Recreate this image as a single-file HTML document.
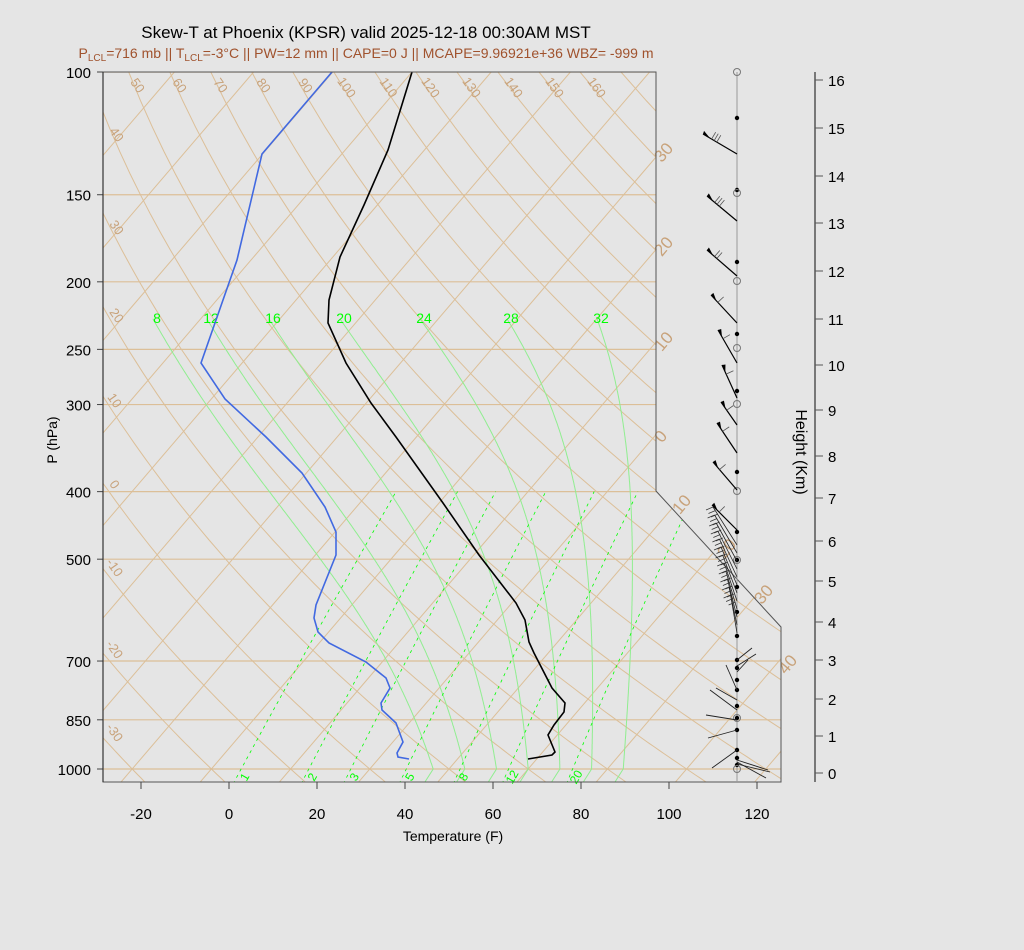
<!DOCTYPE html>
<html><head><meta charset="utf-8"><style>
html,body{margin:0;padding:0;background:#e5e5e5;}
svg{display:block;font-family:"Liberation Sans",sans-serif;}
</style></head><body>
<svg id="s" width="1024" height="950" viewBox="0 0 1024 950" xmlns="http://www.w3.org/2000/svg">
<rect width="1024" height="950" fill="#e5e5e5"/>
<defs><clipPath id="cp"><polygon points="103,72 656,72 656,491 781,627 781,782 103,782"/></clipPath></defs>
<g id="grid" clip-path="url(#cp)"></g>
<g id="over"></g>
<text x="366" y="38" font-size="17" text-anchor="middle" fill="#000">Skew-T at Phoenix (KPSR) valid 2025-12-18 00:30AM MST</text>
<text x="366" y="58" font-size="14" text-anchor="middle" fill="#a0522d">P<tspan font-size="10" dy="3">LCL</tspan><tspan dy="-3">=716 mb || T</tspan><tspan font-size="10" dy="3">LCL</tspan><tspan dy="-3">=-3°C || PW=12 mm || CAPE=0 J || MCAPE=9.96921e+36 WBZ= -999 m</tspan></text>
<text x="453" y="841" font-size="14" text-anchor="middle">Temperature (F)</text>
<text transform="translate(57,440) rotate(-90)" font-size="14" text-anchor="middle">P (hPa)</text>
<text transform="translate(796,452) rotate(90)" font-size="16" text-anchor="middle">Height (Km)</text>
</svg>
<script>
(function(){
var NS="http://www.w3.org/2000/svg";
var g=document.getElementById('grid'),o=document.getElementById('over');
function el(par,tag,a,txt){var e=document.createElementNS(NS,tag);for(var k in a)e.setAttribute(k,a[k]);if(txt!==undefined)e.textContent=txt;par.appendChild(e);return e;}
function Y(p){return 72+697*Math.log10(p/100);}
function X(tc,p){return 229+4.4*(tc*1.8+32)+0.856*(769-Y(p));}
function pl(par,pts,a){a.points=pts.map(function(q){return q[0].toFixed(1)+','+q[1].toFixed(1)}).join(' ');a.fill='none';return el(par,'polyline',a);}
var tan='#dcbf98',tanT='#c8a27a';
[100,150,200,250,300,400,500,700,850,1000].forEach(function(p){var y=Y(p);el(g,'line',{x1:103,y1:y,x2:781,y2:y,stroke:tan,'stroke-width':1.2});
 el(o,'text',{x:91,y:y+6,'font-size':15,'text-anchor':'end'},String(p));el(o,'line',{x1:97,y1:y,x2:103,y2:y,stroke:'#444'});});
for(var t=-120;t<=60;t+=10){pl(g,[[X(t,1060),Y(1060)],[X(t,100),72]],{stroke:tan,'stroke-width':1});}
for(var th=-30;th<=200;th+=10){var pts=[];for(var p=1060;p>=100;p-=10){var T=(th+273.15)*Math.pow(p/1000,0.2857)-273.15;pts.push([X(T,p),Y(p)]);}pl(g,pts,{stroke:tan,'stroke-width':1});}
var lt=[[40,113,137],[30,113,230],[20,113,318],[10,111,403],[0,111,487],[-10,111,570],[-20,111,652],[-30,111,735]];
lt.forEach(function(a){el(o,'text',{transform:'translate('+a[1]+','+a[2]+') rotate(55)','font-size':13,fill:tanT,'text-anchor':'middle'},String(a[0]));});
var tt=[[50,134,88],[60,176,88],[70,217,88],[80,260,88],[90,302,88],[100,343,90],[110,385,90],[120,427,90],[130,468,90],[140,510,90],[150,551,90],[160,593,90]];
tt.forEach(function(a){el(o,'text',{transform:'translate('+a[1]+','+a[2]+') rotate(55)','font-size':13,fill:tanT,'text-anchor':'middle'},String(a[0]));});
var it=[[30,668,156],[20,668,250],[10,668,345],[0,665,440],[10,686,508],[20,731,552],[30,768,598],[40,792,668]];
it.forEach(function(a){el(o,'text',{transform:'translate('+a[1]+','+a[2]+') rotate(-50)','font-size':17,fill:tanT,'text-anchor':'middle'},String(a[0]));});
function es(tc){return 6.112*Math.exp(17.67*tc/(tc+243.5));}
var refL={8:157,12:211,16:273,20:344,24:424,28:511,32:601};
[8,12,16,20,24,28,32].forEach(function(tw){var T=tw+273.15,pts=[],ps=[];
 for(var p=1000;p<=1060;p+=2){}
 var arr=[];for(var p=1000;p>=225;p-=2){var tc=T-273.15,e=es(tc),rs=0.622*e/(p-e);arr.push([X(tc,p),p]);var d=(287*T+2.5e6*rs)/(p*(1005+2.5e6*2.5e6*rs*0.622/(287*T*T)));T-=d*2;}
 var top=arr[arr.length-1][0],corr=refL[tw]-4-top,L1=Math.log(1000/225);
 arr.forEach(function(a){var f=Math.log(1000/a[1])/L1;pts.push([a[0]+corr*f*f,Y(a[1])]);});
 pts.unshift([X(tw+0.5,1060),Y(1060)]);
 pl(g,pts,{stroke:'#90ee90','stroke-width':1});el(o,'text',{x:refL[tw],y:323,'font-size':14,fill:'#00ff00','text-anchor':'middle'},String(tw));});
[1,2,3,5,8,12,20].forEach(function(w){var pts=[];for(var p=1050;p>=400;p-=10){var e=w/1000*p/(0.622+w/1000),L=Math.log(e/6.112),td=243.5*L/(17.67-L);pts.push([X(td,p)+7,Y(p)]);}
 pl(g,pts,{stroke:'#00ff00','stroke-width':0.8,'stroke-dasharray':'3,4'});
 var e=w/1000*1000/(0.622+w/1000),L=Math.log(e/6.112),td=243.5*L/(17.67-L);el(o,'text',{transform:'translate('+(X(td,1000)+14)+',779) rotate(-60)','font-size':12,fill:'#00ff00','text-anchor':'middle'},String(w));});
pl(o,[[412,72],[388,150],[364,205],[340,257],[329,300],[328,323],[346,363],[371,403],[396,437],[443,503],[479,555],[516,603],[525,620],[529,642],[534,653],[552,688],[565,703],[564,712],[554,725],[548,735],[555,752],[552,755],[528,759]],{stroke:'#000','stroke-width':1.6});
pl(o,[[332,72],[262,154],[237,260],[223,300],[201,363],[225,399],[266,437],[302,473],[325,507],[336,532],[336,555],[316,605],[314,618],[318,632],[329,643],[366,662],[386,678],[390,688],[381,703],[382,710],[396,723],[403,742],[397,753],[398,757],[409,759]],{stroke:'#4169e1','stroke-width':1.6});
el(o,'polyline',{points:'103,72 656,72 656,491 781,627 781,782 103,782 103,72',fill:'none',stroke:'#555','stroke-width':1});
el(o,'line',{x1:103,y1:72,x2:103,y2:782,stroke:'#333','stroke-width':1.2});
for(var v=-20;v<=120;v+=20){var x=229+4.4*v;el(o,'line',{x1:x,y1:782,x2:x,y2:789,stroke:'#444'});el(o,'text',{x:x,y:819,'font-size':15,'text-anchor':'middle'},String(v));}
el(o,'line',{x1:815,y1:72,x2:815,y2:782,stroke:'#555','stroke-width':1.5});
var hy=[773,736,699,660,622,581,541,498,456,410,365,319,271,223,176,128,80];
hy.forEach(function(y,k){el(o,'line',{x1:815,y1:y,x2:823,y2:y,stroke:'#555'});el(o,'text',{x:828,y:y+6,'font-size':15},String(k));});
el(o,'line',{x1:737,y1:72,x2:737,y2:782,stroke:'#999','stroke-width':1});
[118,190,262,334,391,472,532,560,587,612,636,660,668,680,690,706,718,730,750,758,765].forEach(function(y){el(o,'circle',{cx:737,cy:y,r:2.2,fill:'#000'});});
[72,193,281,348,404,491,560,718,769].forEach(function(y){el(o,'circle',{cx:737,cy:y,r:3.5,fill:'none',stroke:'#777'});});
var bb=[[154,703,134,3],[221,707,196,3],[276,707,250,2],[323,711,295,1],[363,718,330,1],[398,722,365,1],[425,721,402,1],[453,717,423,1],[490,713,462,1],[530,712,505,1]];
bb.forEach(function(b){var x0=737,y0=b[0],x1=b[1],y1=b[2];el(o,'line',{x1:x0,y1:y0,x2:x1,y2:y1,stroke:'#000','stroke-width':1.2});
 var dx=x0-x1,dy=y0-y1,L=Math.hypot(dx,dy),ux=dx/L,uy=dy/L;
 el(o,'polygon',{points:x1+','+y1+' '+(x1+ux*8)+','+(y1+uy*8)+' '+(x1+uy*6-2)+','+(y1-ux*6+2),fill:'#000'});
 for(var i=0;i<b[3];i++){var bx=x1+ux*(10+i*3),by=y1+uy*(10+i*3);el(o,'line',{x1:bx,y1:by,x2:bx+uy*8,y2:by-ux*8,stroke:'#555','stroke-width':0.8});}});
for(var y0=545;y0<=640;y0+=8){var x1=713+(y0-545)*0.2,y1=y0-38;el(o,'line',{x1:737,y1:y0,x2:x1,y2:y1,stroke:'#222','stroke-width':0.8});
 for(var i=0;i<3;i++){el(o,'line',{x1:x1+i*2.5,y1:y1+i*3.5,x2:x1+i*2.5-7,y2:y1+i*3.5+3,stroke:'#333','stroke-width':0.7});}}
[[660,752,648],[666,756,654],[672,748,660],[690,726,665],[700,716,688],[710,710,690],[720,706,715],[730,708,738],[750,712,768],[760,768,770],[762,766,778],[764,770,772]].forEach(function(a){el(o,'line',{x1:737,y1:a[0],x2:a[1],y2:a[2],stroke:'#222','stroke-width':0.9});});
})();
</script>
</body></html>
